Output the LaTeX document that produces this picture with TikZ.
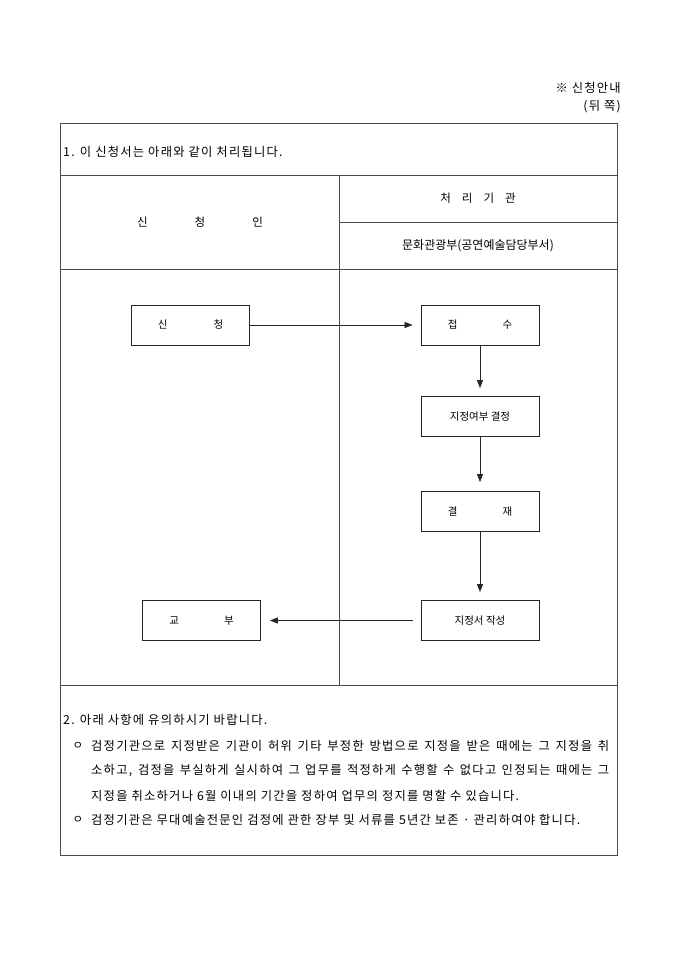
\documentclass[tikz,border=0pt]{standalone}
\usepackage{fontspec}
\setmainfont{Noto Sans CJK KR}
\newfontfamily\trk{Noto Sans CJK KR}[LetterSpace=10]
\usetikzlibrary{arrows.meta}
\begin{document}
\begin{tikzpicture}[x=1pt,y=-1pt,
  tbl/.style={draw=black!70,line width=0.9pt},
  stepbox/.style={draw=black!85,line width=0.8pt,minimum width=118pt,minimum height=40pt,inner sep=0pt,font=\fontsize{10.5}{12}\selectfont},
  conn/.style={draw=black!85,line width=0.7pt,-{Triangle[length=8pt,width=6pt]}},
  txt/.style={inner sep=0pt,font=\fontsize{11.5}{13}\selectfont},
  body/.style={inner sep=0pt,anchor=west,font=\trk\fontsize{12.3}{14}\selectfont}]
\useasboundingbox (0,0) rectangle (680,962);
% header
\node[body,anchor=east] (h1) at (621,88) {※ 신청안내};
\node[body,anchor=east] (h2) at (621,107) {(뒤 쪽)};
% table
\draw[tbl] (60,123) rectangle (617,855);
\draw[tbl] (60,175) -- (617,175);
\draw[tbl] (60,269) -- (617,269);
\draw[tbl] (60,685) -- (617,685);
\draw[tbl] (339,175) -- (339,685);
\draw[tbl] (339,222) -- (617,222);
\node[body] (t1) at (63,152) {1. 이 신청서는 아래와 같이 처리됩니다.};
\node[txt] (c1) at (200,222) {신\hspace{47pt}청\hspace{47pt}인};
\node[txt] (c2) at (478,198) {처\hspace{11pt}리\hspace{11pt}기\hspace{11pt}관};
\node[txt,font=\fontsize{12}{14}\selectfont] (c3) at (478,246) {문화관광부(공연예술담당부서)};
% flow boxes
\node[stepbox] (s1) at (190.5,325) {신\hspace{46pt}청};
\node[stepbox] (s2) at (480,325) {접\hspace{45pt}수};
\node[stepbox] (s3) at (480,416.5) {지정여부 결정};
\node[stepbox] (s4) at (480,511.5) {결\hspace{45pt}재};
\node[stepbox] (s5) at (480,620.5) {지정서 작성};
\node[stepbox] (s6) at (201.5,620.5) {교\hspace{45pt}부};
\draw[conn,shorten >=8pt] (s1.east) -- (s2.west);
\draw[conn,shorten >=8pt] (s2.south) -- (s3.north);
\draw[conn,shorten >=9pt] (s3.south) -- (s4.north);
\draw[conn,shorten >=8pt] (s4.south) -- (s5.north);
\draw[conn,shorten <=8pt,shorten >=9pt] (s5.west) -- (s6.east);
% section 2
\node[body] (t2) at (63,720) {2. 아래 사항에 유의하시기 바랍니다.};
\node[txt] (b1) at (78,746) {ㅇ};
\node[body] (l1) at (91,746) {\makebox[518pt][s]{검정기관으로 지정받은 기관이 허위 기타 부정한 방법으로 지정을 받은 때에는 그 지정을 취}};
\node[body] (l2) at (91,771) {\makebox[518pt][s]{소하고, 검정을 부실하게 실시하여 그 업무를 적정하게 수행할 수 없다고 인정되는 때에는 그}};
\node[body] (l3) at (91,796) {지정을 취소하거나 6월 이내의 기간을 정하여 업무의 정지를 명할 수 있습니다.};
\node[txt] (b2) at (78,820) {ㅇ};
\node[body] (l4) at (91,820) {검정기관은 무대예술전문인 검정에 관한 장부 및 서류를 5년간 보존 · 관리하여야 합니다.};
\end{tikzpicture}
\end{document}
